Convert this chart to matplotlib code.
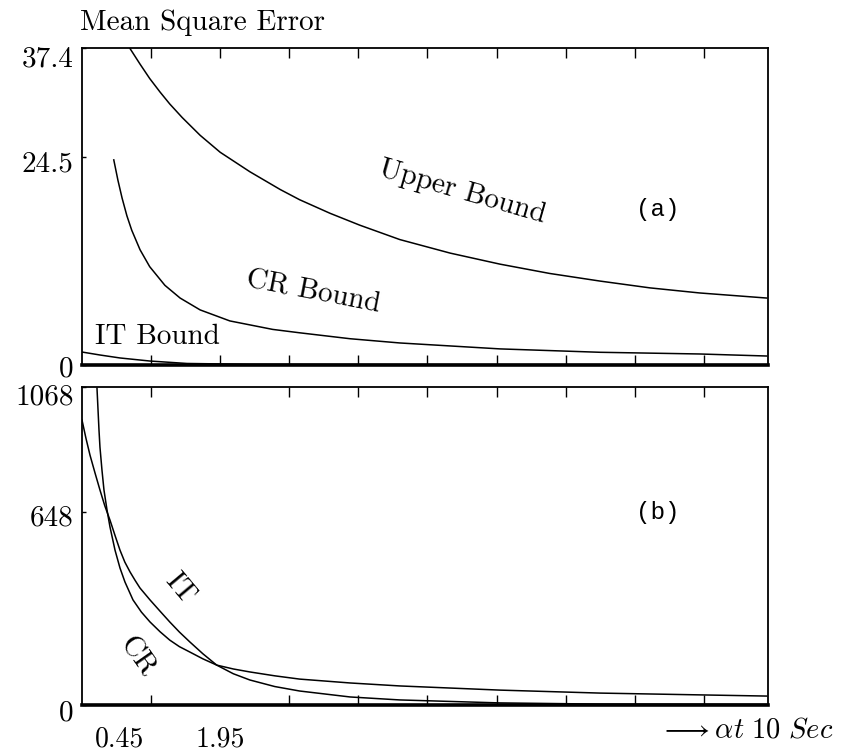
import matplotlib
matplotlib.use("Agg")
import matplotlib.pyplot as plt
from matplotlib.transforms import ScaledTranslation

plt.rcParams["font.family"] = "serif"
plt.rcParams["font.serif"] = ["cmr10", "DejaVu Serif"]
plt.rcParams["mathtext.fontset"] = "cm"
plt.rcParams["axes.formatter.use_mathtext"] = True

# ---- panel (a): bounds on the mean square error ----
upper_t = [0.69, 0.84, 0.98, 1.13, 1.27, 1.45, 1.71, 2.00, 2.43, 2.87, 3.15, 3.59,
           4.02, 4.60, 5.33, 6.05, 6.77, 7.50, 8.22, 8.94, 9.91]
upper_v = [37.4, 35.5, 33.8, 32.2, 30.8, 29.2, 27.1, 25.1, 22.8, 20.7, 19.5, 17.9,
           16.5, 14.8, 13.2, 11.9, 10.8, 9.9, 9.1, 8.5, 7.9]

crb_t = [0.46, 0.52, 0.58, 0.65, 0.72, 0.84, 0.98, 1.20, 1.42, 1.71, 2.14, 2.76,
         3.15, 3.88, 4.60, 6.05, 7.50, 8.94, 9.91]
crb_v = [24.2, 21.8, 19.7, 17.6, 15.9, 13.6, 11.6, 9.4, 7.9, 6.5, 5.2, 4.2,
         3.8, 3.1, 2.6, 1.9, 1.5, 1.3, 1.06]

itb_t = [0.0, 0.26, 0.55, 0.98, 1.52, 2.43, 4.60, 9.91]
itb_v = [1.53, 1.18, 0.83, 0.47, 0.18, 0.08, 0.05, 0.03]

# ---- panel (b): simulated IT and CR errors ----
it_t = [0.0, 0.058, 0.116, 0.19, 0.26, 0.33, 0.405, 0.48, 0.55, 0.62, 0.695, 0.77,
        0.839, 0.984, 1.13, 1.27, 1.41, 1.56, 1.75, 1.95,
        2.19, 2.43, 2.79, 3.15, 3.88, 4.60, 6.05, 7.50, 9.91]
it_v = [957, 895, 839, 778, 722, 669, 621, 568, 520, 480, 447, 418,
        393, 353, 315, 279, 245, 212, 172, 134,
        105, 84, 62, 47, 27, 17, 7, 3, 2]

cr_t = [0.217, 0.232, 0.246, 0.26, 0.289, 0.318, 0.362, 0.405, 0.478, 0.55, 0.622,
        0.738, 0.86, 0.984, 1.13, 1.27, 1.41, 1.56, 1.75, 1.95,
        2.19, 2.43, 2.79, 3.15, 3.88, 4.60, 6.05, 7.50, 8.94, 9.91]
cr_v = [1064, 991, 923, 866, 789, 722, 655, 598, 520, 460, 413,
        353, 312, 279, 246, 218, 196, 178, 155, 134,
        121, 111, 98, 87, 74, 64, 50, 40, 34, 30]

a_yticks = [0, 24.5, 37.4]
a_ylabels = ["0", "24.5", "37.4"]
b_yticks = [0, 648, 1068]
b_ylabels = ["0", "648", "1068"]
x_minor = [1, 2, 3, 4, 5, 6, 7, 8, 9]
x_major = [0.55, 2.0]
x_labels = ["0.45", "1.95"]

W, H = 847, 751
fig = plt.figure(figsize=(W / 100, H / 100), dpi=100)
axa = fig.add_axes([82 / W, 1 - 365 / H, 686 / W, 317 / H])
axb = fig.add_axes([82 / W, 1 - 705 / H, 686 / W, 318 / H])

lw = 1.1
axa.plot(upper_t, upper_v, color="black", lw=lw)
axa.plot(crb_t, crb_v, color="black", lw=lw)
axa.plot(itb_t, itb_v, color="black", lw=lw)
axb.plot(it_t, it_v, color="black", lw=lw)
axb.plot(cr_t, cr_v, color="black", lw=lw)

for ax, yt, yl, top in ((axa, a_yticks, a_ylabels, 37.4), (axb, b_yticks, b_ylabels, 1068)):
    ax.set_xlim(0, 9.93)
    ax.set_ylim(0, top)
    ax.set_yticks(yt)
    ax.set_yticklabels(yl)
    ax.tick_params(axis="y", direction="in", length=3, width=1, pad=6, labelsize=21)
    ax.set_xticks(x_minor, minor=True)
    ax.tick_params(axis="x", which="minor", direction="in", length=7, width=1,
                   top=True, bottom=True)
    for s in ax.spines.values():
        s.set_linewidth(1.3)
    ax.spines["bottom"].set_linewidth(2.6)

axa.set_xticks([])
axa.set_xticks(x_minor, minor=True)
axb.set_xticks(x_major)
axb.set_xticklabels(x_labels)
axb.tick_params(axis="x", which="major", length=0, pad=15, labelsize=20)

# labels sit a little below their ticks in the original
for lab, dy in zip(axa.get_yticklabels(), [-1, -3, -6]):
    lab.set_transform(lab.get_transform() + ScaledTranslation(0, dy / 72, fig.dpi_scale_trans))
for lab, dy in zip(axb.get_yticklabels(), [-4, -2, -5]):
    lab.set_transform(lab.get_transform() + ScaledTranslation(0, dy / 72, fig.dpi_scale_trans))

# annotations
axa.text(5.50, 20.4, "Upper Bound", fontsize=21, rotation=-16, ha="center", va="center")
axa.text(3.34, 8.6, "CR Bound", fontsize=21, rotation=-11, ha="center", va="center")
axa.text(1.09, 3.3, "IT Bound", fontsize=21, ha="center", va="center")
axa.text(8.34, 18.4, "(a)", fontsize=17.5, family="Liberation Mono", ha="center", va="center")

axb.text(1.42, 390, "IT", fontsize=21, rotation=-50, ha="center", va="center")
axb.text(0.80, 161, "CR", fontsize=21, rotation=-55, ha="center", va="center")
axb.text(8.34, 648, "(b)", fontsize=17.5, family="Liberation Mono", ha="center", va="center")

fig.text(80 / W, 1 - 23 / H, "Mean Square Error", fontsize=21, ha="left", va="center")
fig.text(660 / W, 1 - 730 / H, r"$\longrightarrow \alpha t\ 10\ Sec$", fontsize=20.5,
         ha="left", va="center")

fig.savefig("out.png", dpi=100)
